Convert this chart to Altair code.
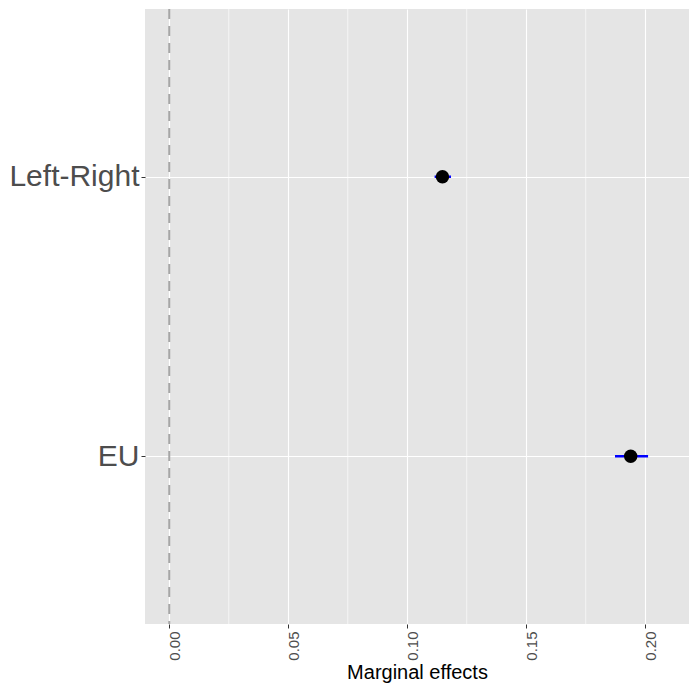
import altair as alt
import pandas as pd

variables = ["Left-Right", "EU"]
estimates = [0.1148, 0.1939]
lower = [0.1115, 0.1873]
upper = [0.1184, 0.2012]
x_ticks = [0.0, 0.05, 0.10, 0.15, 0.20]
minor_breaks = [0.025, 0.075, 0.125, 0.175]
x_domain = [-0.0102, 0.2184]

df = pd.DataFrame({"variable": variables, "estimate": estimates,
                   "lower": lower, "upper": upper})
minor_df = pd.DataFrame({"x": minor_breaks})
zero_df = pd.DataFrame({"x": [0.0]})

FONT = "Liberation Sans"
xscale = alt.Scale(domain=x_domain, nice=False, zero=False)
yscale = alt.Scale(type="point", padding=0.6, domain=variables)

xaxis = alt.Axis(values=x_ticks, format=".2f", labelAngle=270, labelFontSize=15,
                 labelColor="#4d4d4d", labelFont=FONT, tickColor="#333333", tickSize=4,
                 labelOffset=5,
                 domain=False, grid=True, gridColor="white", gridWidth=1.1,
                 title="Marginal effects", titleFontSize=20, titleFontWeight="normal",
                 titleColor="black", titleFont=FONT, titlePadding=2, labelPadding=3)
yaxis = alt.Axis(title=None, labelFontSize=30, labelColor="#4d4d4d", labelFont=FONT,
                 tickColor="#333333", tickSize=4, domain=False, grid=True,
                 gridColor="white", gridWidth=1.1, labelPadding=2)

minor = alt.Chart(minor_df).mark_rule(color="white", strokeWidth=0.6).encode(
    x=alt.X("x:Q", scale=xscale, axis=xaxis)
)

zero = alt.Chart(zero_df).mark_rule(color="#a6a6a6", strokeWidth=2, strokeDash=[10, 7]).encode(
    x=alt.X("x:Q", scale=xscale)
)

bars = alt.Chart(df).mark_rule(color="blue", strokeWidth=2.5).encode(
    x=alt.X("lower:Q", scale=xscale),
    x2="upper:Q",
    y=alt.Y("variable:N", scale=yscale, axis=yaxis, sort=variables),
)

points = alt.Chart(df).mark_circle(color="black", size=180, opacity=1).encode(
    x=alt.X("estimate:Q", scale=xscale),
    y=alt.Y("variable:N", scale=yscale, sort=variables),
)

chart = alt.layer(minor, zero, bars, points).properties(
    width=544, height=615, padding=0
).configure_view(fill="#E5E5E5", stroke=None)

chart.save("out.html", embed_options={"renderer": "svg", "actions": False})
